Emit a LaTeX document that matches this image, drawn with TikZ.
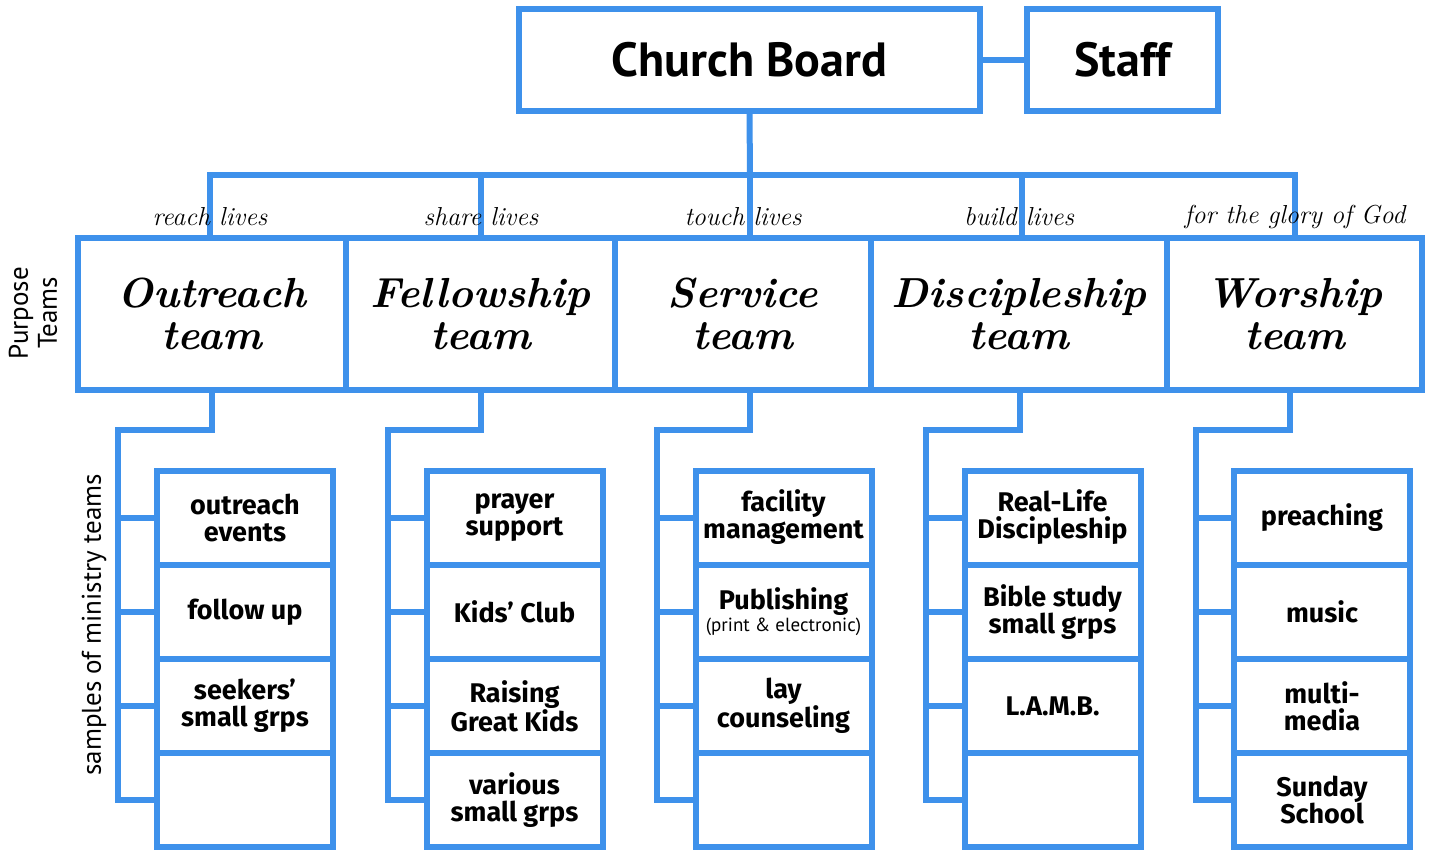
\documentclass[tikz,border=0pt]{standalone}
\usepackage{fontspec}
\setsansfont{PT Sans}
\newfontfamily\itemfont{Fira Sans}
\definecolor{orgblue}{RGB}{62,145,235}
\tikzset{
  ln/.style={draw=orgblue, line width=6pt},
  topbox/.style={draw=orgblue, line width=6pt, minimum height=102pt, inner sep=0pt, font=\sffamily\bfseries\fontsize{48}{48}\selectfont},
  teambox/.style={draw=orgblue, line width=6pt, minimum height=152pt, inner sep=0pt, align=center, font=\bfseries\itshape\fontsize{42}{42}\selectfont},
  minbox/.style={draw=orgblue, line width=6pt, minimum width=176pt, minimum height=94pt, inner sep=0pt, align=center, font=\itemfont\bfseries\fontsize{27}{27}\selectfont},
  tag/.style={font=\itshape\fontsize{26}{26}\selectfont, inner sep=0pt},
  side/.style={font=\sffamily\fontsize{27}{29}\selectfont, rotate=90, align=center, inner sep=0pt}
}
\begin{document}
\begin{tikzpicture}[x=1pt,y=-1pt]
\useasboundingbox (0,0) rectangle (1432,850);
% top boxes
\node[topbox, minimum width=461pt] (board) at (749.5,60) {Church Board};
\node[topbox, minimum width=191pt] (staff) at (1122.5,60) {Staff};
% team boxes
\node[teambox, minimum width=268pt] (t1) at (212,314) {Outreach\\team};
\node[teambox, minimum width=269pt] (t2) at (480.5,314) {Fellowship\\team};
\node[teambox, minimum width=256pt] (t3) at (743,314) {Service\\team};
\node[teambox, minimum width=296pt] (t4) at (1019,314) {Discipleship\\team};
\node[teambox, minimum width=255pt] (t5) at (1294.5,314) {Worship\\team};
% coordinates of connector ends
\coordinate (bus) at (750,175);
\coordinate (a1) at (210,238);
\coordinate (a2) at (481,238);
\coordinate (a3) at (750,238);
\coordinate (a4) at (1022,238);
\coordinate (a5) at (1295,238);
\draw[ln] (board.east) -- (staff.west);
\draw[ln] (board.south) -- (bus);
\draw[ln] (a1) -- (210,175) -| (a5);
\draw[ln] (481,175) -- (a2);
\draw[ln] (bus) -- (a3);
\draw[ln] (1022,175) -- (a4);
% purpose labels
\node[tag] at (210,217) {reach lives};
\node[tag] at (481,217) {share lives};
\node[tag] at (743,217) {touch lives};
\node[tag] at (1019,217) {build lives};
\node[tag] at (1295,217) {for the glory of God};
% side labels
\node[side] at (33,313) {Purpose\\Teams};
\node[side] at (94,625) {samples of ministry teams};
% ministry boxes
\node[minbox] (m11) at (245,517.5) {outreach\\events};
\node[minbox] (m12) at (245,612) {follow up};
\node[minbox] (m13) at (245,706) {seekers’\\small grps};
\node[minbox] (m14) at (245,800) {};
\node[minbox] (m21) at (514.5,517.5) {prayer\\support};
\node[minbox] (m22) at (514.5,612) {Kids’ Club};
\node[minbox] (m23) at (514.5,706) {Raising\\Great Kids};
\node[minbox] (m24) at (514.5,800) {various\\small grps};
\node[minbox] (m31) at (783.5,517.5) {facility\\management};
\node[minbox] (m32) at (783.5,612) {Publishing\\[-5pt]{\sffamily\mdseries\fontsize{19}{19}\selectfont(print \& electronic)}};
\node[minbox] (m33) at (783.5,706) {lay\\counseling};
\node[minbox] (m34) at (783.5,800) {};
\node[minbox] (m41) at (1052.5,517.5) {Real-Life\\Discipleship};
\node[minbox] (m42) at (1052.5,612) {Bible study\\small grps};
\node[minbox] (m43) at (1052.5,706) {L.A.M.B.};
\node[minbox] (m44) at (1052.5,800) {};
\node[minbox] (m51) at (1322,517.5) {preaching};
\node[minbox] (m52) at (1322,612) {music};
\node[minbox] (m53) at (1322,706) {multi-\\media};
\node[minbox] (m54) at (1322,800) {Sunday\\School};
% lower connectors
\foreach \c/\tx/\xl in {1/212/118, 2/481/388, 3/750/657, 4/1020/926, 5/1290/1196}{
  \draw[ln] (\tx,390) -- (\tx,430) -- (\xl,430) -- (\xl,800) -- (m\c4.west);
  \draw[ln] (\xl,517.5) -- (m\c1.west);
  \draw[ln] (\xl,612) -- (m\c2.west);
  \draw[ln] (\xl,706) -- (m\c3.west);
}
\end{tikzpicture}
\end{document}
